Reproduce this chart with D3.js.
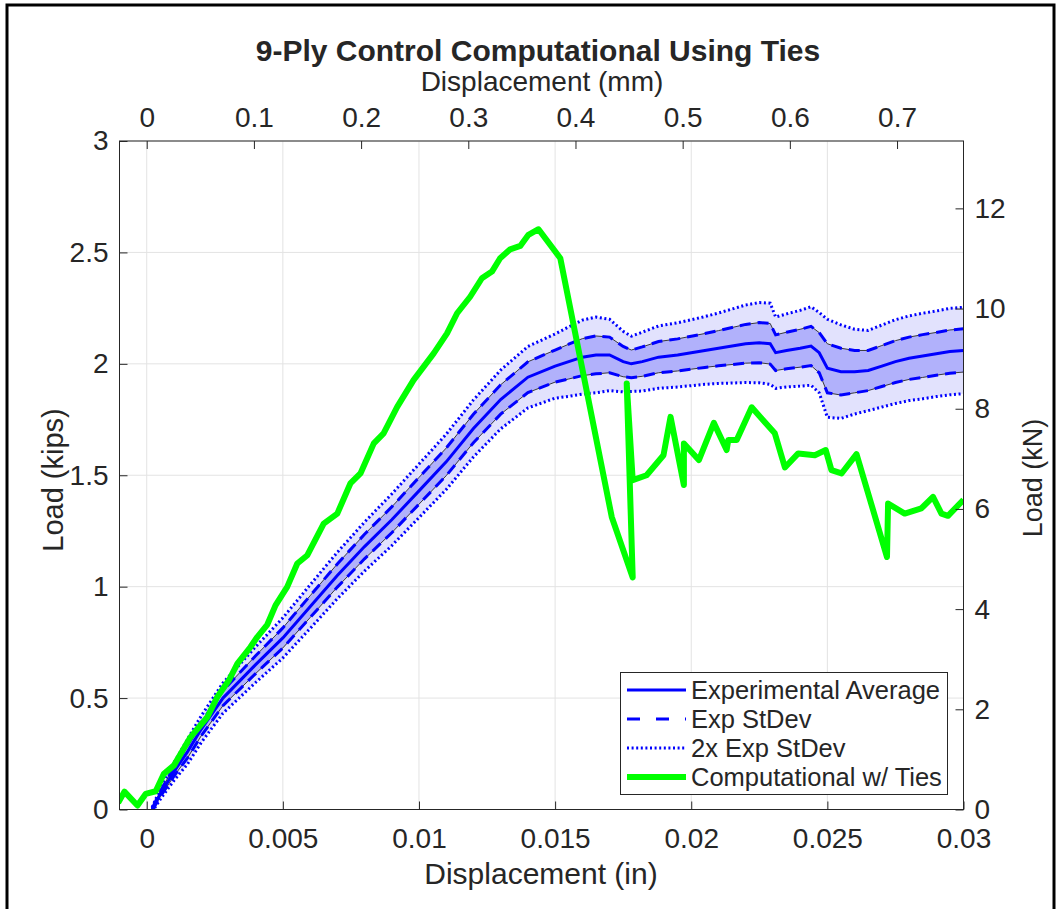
<!DOCTYPE html>
<html>
<head>
<meta charset="utf-8">
<script src="https://cdn.jsdelivr.net/npm/d3@7"></script>
<style>
  body { margin: 0; background: #fff; }
  text { font-family: "Liberation Sans", Arial, Helvetica, sans-serif; fill: #262626; }
</style>
</head>
<body>
<svg id="chart" width="1058" height="909"></svg>
<script>
// experimental average +/- std dev (displacement in inches, load in kips)
const expDisp = [0.0002,0.0005,0.001,0.0015,0.002,0.0028,0.004,0.005,0.006,0.007,0.008,0.009,0.010,0.011,0.012,0.013,0.014,0.015,0.0155,0.016,0.0165,0.017,0.0175,0.0178,0.0182,0.0188,0.0195,0.020,0.0205,0.021,0.0215,0.022,0.0225,0.0229,0.0231,0.0235,0.024,0.0244,0.0247,0.025,0.0255,0.026,0.0265,0.027,0.0275,0.028,0.0285,0.029,0.0295,0.030]
const expMean = [0,0.07,0.17,0.26,0.36,0.5,0.65,0.77,0.91,1.05,1.18,1.30,1.43,1.56,1.71,1.84,1.94,1.99,2.01,2.03,2.04,2.04,2.01,2.0,2.01,2.03,2.04,2.05,2.06,2.07,2.08,2.09,2.095,2.09,2.05,2.06,2.07,2.08,2.05,1.98,1.965,1.965,1.97,1.99,2.01,2.025,2.035,2.045,2.055,2.06]
const expStd = [0.005,0.012,0.02,0.028,0.03,0.034,0.04,0.045,0.049,0.052,0.055,0.058,0.06,0.062,0.064,0.066,0.069,0.072,0.078,0.083,0.085,0.08,0.068,0.062,0.066,0.07,0.072,0.074,0.076,0.079,0.083,0.087,0.09,0.091,0.08,0.082,0.085,0.088,0.09,0.11,0.105,0.095,0.09,0.092,0.094,0.095,0.096,0.096,0.097,0.097]

// computational model with ties
const compDisp = [-0.00105,-0.00082,-0.00034,-0.00004,0.00033,0.00063,0.001,0.00161,0.00223,0.00259,0.00302,0.00333,0.00381,0.00406,0.00443,0.00473,0.00516,0.00553,0.0059,0.0065,0.007,0.00748,0.00785,0.00834,0.0087,0.0092,0.0098,0.01054,0.01103,0.0114,0.01188,0.01231,0.01268,0.01298,0.01335,0.01372,0.01402,0.01439,0.01519,0.01708,0.01785,0.01763,0.01785,0.01836,0.01898,0.01924,0.01973,0.01973,0.02028,0.02083,0.0213,0.02136,0.02167,0.02222,0.02307,0.02344,0.02393,0.02454,0.02494,0.02515,0.02552,0.02607,0.02719,0.02723,0.02784,0.02845,0.02888,0.02919,0.02943,0.03]
const compLoad = [0.03,0.08,0.018,0.07,0.082,0.16,0.198,0.325,0.415,0.505,0.58,0.655,0.729,0.774,0.83,0.916,0.999,1.104,1.141,1.283,1.328,1.463,1.508,1.643,1.688,1.807,1.927,2.047,2.137,2.227,2.301,2.384,2.414,2.474,2.514,2.529,2.579,2.604,2.474,1.313,1.041,1.912,1.478,1.50,1.59,1.762,1.456,1.643,1.568,1.735,1.613,1.658,1.658,1.805,1.688,1.535,1.598,1.59,1.613,1.523,1.508,1.595,1.133,1.373,1.328,1.351,1.403,1.328,1.318,1.39]

const inTicks = [0,0.005,0.01,0.015,0.02,0.025,0.03]
const mmTicks = [0,0.1,0.2,0.3,0.4,0.5,0.6,0.7]
const kipTicks = [0,0.5,1,1.5,2,2.5,3]
const kNTicks = [0,2,4,6,8,10,12]
const legendNames = ['Experimental Average','Exp StDev','2x Exp StDev','Computational w/ Ties']

const L = 119.5, R = 963.5, T = 141, B = 809.5
const svg = d3.select('#chart')

// figure frame
svg.append('rect').attr('x', 7).attr('y', 5).attr('width', 1047).attr('height', 960)
   .attr('fill', 'none').attr('stroke', '#000').attr('stroke-width', 3)

const x = d3.scaleLinear().domain([-0.001, 0.03]).range([L, R])
const xTop = d3.scaleLinear().domain([-0.001*25.4, 0.03*25.4]).range([L, R])
const y = d3.scaleLinear().domain([0, 3]).range([B, T])
const yR = d3.scaleLinear().domain([0, 3*4.44822]).range([B, T])

// grid
const grid = svg.append('g').attr('stroke', '#e3e3e3').attr('stroke-width', 1)
inTicks.forEach(function(t) {
  grid.append('line').attr('x1', x(t)).attr('x2', x(t)).attr('y1', T).attr('y2', B)
})
kipTicks.forEach(function(t) {
  grid.append('line').attr('x1', L).attr('x2', R).attr('y1', y(t)).attr('y2', y(t))
})

svg.append('clipPath').attr('id', 'clip')
   .append('rect').attr('x', L).attr('y', T).attr('width', R - L).attr('height', B - T)

const plot = svg.append('g').attr('clip-path', 'url(#clip)')
const rows = expDisp.map(function(d, i) { return { x: d, m: expMean[i], s: expStd[i] } })

const band = function(k) {
  return d3.area().x(function(d) { return x(d.x) })
    .y0(function(d) { return y(d.m - k*d.s) }).y1(function(d) { return y(d.m + k*d.s) })
}
const offLine = function(k) {
  return d3.line().x(function(d) { return x(d.x) }).y(function(d) { return y(d.m + k*d.s) })
}

plot.append('path').datum(rows).attr('d', band(2)).attr('fill', '#e2e2fd')
plot.append('path').datum(rows).attr('d', band(1)).attr('fill', '#b1b1fb')
;[-1, 1].forEach(function(k) {
  plot.append('path').datum(rows).attr('d', offLine(k))
      .attr('fill', 'none').attr('stroke', '#3a3a3a').attr('stroke-width', 1)
})
;[-2, 2].forEach(function(k) {
  plot.append('path').datum(rows).attr('d', offLine(k))
      .attr('fill', 'none').attr('stroke', '#0000ff').attr('stroke-width', 3)
      .attr('stroke-dasharray', '2,2.6')
})
;[-1, 1].forEach(function(k) {
  plot.append('path').datum(rows).attr('d', offLine(k))
      .attr('fill', 'none').attr('stroke', '#0000ff').attr('stroke-width', 3)
      .attr('stroke-dasharray', '11,7')
})
plot.append('path').datum(rows).attr('d', offLine(0))
    .attr('fill', 'none').attr('stroke', '#0000ff').attr('stroke-width', 3)

const comp = compDisp.map(function(d, i) { return [d, compLoad[i]] })
plot.append('path').datum(comp)
    .attr('d', d3.line().x(function(d) { return x(d[0]) }).y(function(d) { return y(d[1]) }))
    .attr('fill', 'none').attr('stroke', '#00ff00').attr('stroke-width', 6)
    .attr('stroke-linejoin', 'round')

// axes
function styleAxis(g) {
  g.select('.domain').remove()
  g.selectAll('line').attr('stroke', '#262626')
  g.selectAll('text').attr('font-size', 28).attr('fill', '#262626')
    .attr('font-family', '"Liberation Sans", Arial, sans-serif')
}
svg.append('g').attr('transform', 'translate(0,' + B + ')')
   .call(d3.axisBottom(x).tickValues(inTicks).tickFormat(d3.format('~g')).tickSize(-8).tickPadding(19))
   .call(styleAxis)
svg.append('g').attr('transform', 'translate(0,' + T + ')')
   .call(d3.axisTop(xTop).tickValues(mmTicks).tickFormat(d3.format('~g')).tickSize(-8).tickPadding(14))
   .call(styleAxis)
svg.append('g').attr('transform', 'translate(' + L + ',0)')
   .call(d3.axisLeft(y).tickValues(kipTicks).tickFormat(d3.format('~g')).tickSize(-8).tickPadding(11))
   .call(styleAxis)
svg.append('g').attr('transform', 'translate(' + R + ',0)')
   .call(d3.axisRight(yR).tickValues(kNTicks).tickFormat(d3.format('~g')).tickSize(-8).tickPadding(11))
   .call(styleAxis)

svg.append('rect').attr('x', L).attr('y', T).attr('width', R - L).attr('height', B - T)
   .attr('fill', 'none').attr('stroke', '#262626').attr('stroke-width', 1)

// labels
svg.append('text').attr('x', 538).attr('y', 61).attr('text-anchor', 'middle')
   .attr('font-size', 30).attr('font-weight', 'bold').attr('fill', '#000')
   .text('9-Ply Control Computational Using Ties')
svg.append('text').attr('x', 542).attr('y', 91).attr('text-anchor', 'middle')
   .attr('font-size', 28).text('Displacement (mm)')
svg.append('text').attr('x', 541).attr('y', 884).attr('text-anchor', 'middle')
   .attr('font-size', 30).text('Displacement (in)')
svg.append('text').attr('transform', 'translate(63,480) rotate(-90)').attr('text-anchor', 'middle')
   .attr('font-size', 29).text('Load (kips)')
svg.append('text').attr('transform', 'translate(1042,478) rotate(-90)').attr('text-anchor', 'middle')
   .attr('font-size', 27).text('Load (kN)')

// legend
const leg = svg.append('g')
leg.append('rect').attr('x', 620.5).attr('y', 672.5).attr('width', 327).attr('height', 122)
   .attr('fill', '#fff').attr('stroke', '#262626').attr('stroke-width', 1)
const legStyles = [
  { c: '#0000ff', w: 3, dash: null },
  { c: '#0000ff', w: 3, dash: '13,16' },
  { c: '#0000ff', w: 3, dash: '2,2.6' },
  { c: '#00ff00', w: 6, dash: null }
]
legendNames.forEach(function(name, i) {
  const yy = 690 + i*29
  leg.append('line').attr('x1', 627).attr('x2', 686).attr('y1', yy).attr('y2', yy)
     .attr('stroke', legStyles[i].c).attr('stroke-width', legStyles[i].w)
     .attr('stroke-dasharray', legStyles[i].dash)
  leg.append('text').attr('x', 691).attr('y', yy + 9).attr('font-size', 25.5)
     .attr('fill', '#000').text(name)
})
</script>
</body>
</html>
